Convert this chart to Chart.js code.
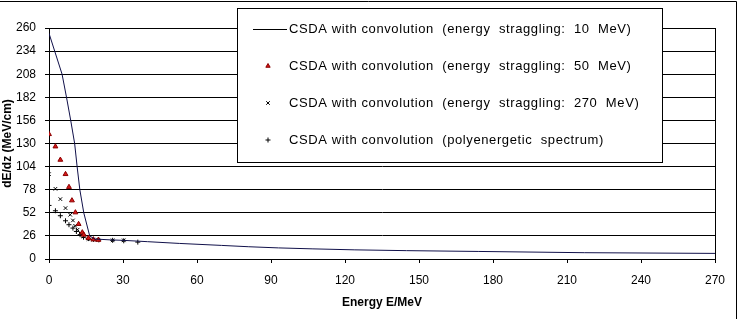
<!DOCTYPE html>
<html>
<head>
<meta charset="utf-8">
<script src="https://cdn.jsdelivr.net/npm/chart.js@4/dist/chart.umd.min.js"></script>
<style>
  html, body { margin: 0; padding: 0; background: #fff; }
  #wrap { position: relative; width: 739px; height: 319px; }
</style>
</head>
<body>
<div id="wrap"><canvas id="dedzChart" width="739" height="319"></canvas></div>
<script>
// dE/dz vs energy - CSDA with convolution

// Series 1: energy straggling 10 MeV (line)
const lineEnergy = [0, 5.3, 7.1, 8.8, 10.4, 11.4, 12.5, 14.1, 16.5, 18.5, 25, 30, 40, 53, 70, 81, 93, 107, 124, 145, 174, 217, 270];
const lineDedz   = [254, 208, 182, 156, 130, 104, 78, 52, 26, 22.5, 21.5, 21, 19.5, 17.5, 15.3, 13.8, 12.5, 11.4, 10.3, 9.4, 8.5, 7.1, 6.3];

// Series 2: energy straggling 50 MeV (triangles)
const s50Energy = [0, 2.6, 4.6, 6.7, 8.1, 9.3, 10.7, 12, 13.5, 14.1, 16, 18, 20];
const s50Dedz   = [140.5, 126.6, 111.6, 95.5, 81, 65.9, 52.4, 39.3, 29.9, 27.3, 23.5, 22, 21.5];

// Series 3: energy straggling 270 MeV (x marks)
const s270Energy = [0, 2.6, 4.6, 6.7, 8.6, 9.7, 10.6, 11.6, 12.6, 14, 16, 18, 20, 25.8, 30.3];
const s270Dedz   = [95.5, 79, 67.4, 57.3, 49.8, 43.4, 37.4, 33, 29.2, 25.4, 22.5, 21.8, 21.5, 21, 21];

// Series 4: polyenergetic spectrum (plus marks)
const polyEnergy = [0, 2.6, 4.6, 6.7, 8.1, 9.7, 11.1, 12.6, 14, 16, 18, 20.2, 25.8, 30.3, 36];
const polyDedz   = [60.3, 54.3, 48.7, 43, 38.6, 34.8, 31, 27.3, 24.5, 23, 22, 21.5, 21, 20.5, 19];

const seriesLabels = [
    'CSDA with convolution  (energy  straggling:  10  MeV)',
    'CSDA with convolution  (energy  straggling:  50  MeV)',
    'CSDA with convolution  (energy  straggling:  270  MeV)',
    'CSDA with convolution  (polyenergetic  spectrum)'
];

const fontFamily = "'Liberation Sans', Arial, sans-serif";
Chart.defaults.font.family = fontFamily;
Chart.defaults.color = '#000';

function toPoints(xs, ys) {
    return xs.map((x, i) => ({ x: x, y: ys[i] }));
}

const pointStyles = [
    { pointStyle: 'line', color: '#10104a' },
    { pointStyle: 'triangle', color: '#d81818', border: '#8a0000' },
    { pointStyle: 'crossRot', color: '#000' },
    { pointStyle: 'cross', color: '#000' }
];

// Draws the frame, plot border and the boxed legend
const framePlugin = {
    id: 'framePlugin',
    afterDraw(chart) {
        const ctx = chart.ctx;
        const area = chart.chartArea;
        ctx.save();
        ctx.strokeStyle = '#000';
        ctx.lineWidth = 1;

        // plot area right border
        ctx.beginPath();
        ctx.moveTo(Math.round(area.right) + 0.5, Math.round(area.top));
        ctx.lineTo(Math.round(area.right) + 0.5, Math.round(area.bottom));
        ctx.stroke();

        // outer chart frame (top + right visible)
        ctx.beginPath();
        ctx.moveTo(0, 1.5);
        ctx.lineTo(736.5, 1.5);
        ctx.lineTo(736.5, 319);
        ctx.stroke();

        // legend box
        const bx = 237, by = 8, bw = 425, bh = 154;
        ctx.fillStyle = '#fff';
        ctx.fillRect(bx, by, bw, bh);
        ctx.strokeRect(bx + 0.5, by + 0.5, bw, bh);

        const rowY = [29, 66, 103, 140];
        ctx.font = '13px ' + fontFamily;
        ctx.letterSpacing = '0.6px';
        ctx.textBaseline = 'middle';
        ctx.textAlign = 'left';
        seriesLabels.forEach((label, i) => {
            const y = rowY[i];
            const st = pointStyles[i];
            if (i === 0) {
                ctx.strokeStyle = '#000';
                ctx.lineWidth = 1;
                ctx.beginPath();
                ctx.moveTo(253, y + 0.5);
                ctx.lineTo(287, y + 0.5);
                ctx.stroke();
            } else {
                ctx.fillStyle = st.color;
                ctx.strokeStyle = st.border || st.color;
                ctx.lineWidth = 1;
                Chart.helpers.drawPoint(ctx, {
                    pointStyle: st.pointStyle,
                    radius: 2.5,
                    rotation: 0,
                    borderWidth: 1
                }, 268, y);
            }
            ctx.fillStyle = '#000';
            ctx.fillText(label, 289, y);
        });
        ctx.restore();
    }
};

const ctx = document.getElementById('dedzChart').getContext('2d');
const dedzChart = new Chart(ctx, {
    type: 'scatter',
    data: {
        datasets: [
            {
                label: seriesLabels[0],
                data: toPoints(lineEnergy, lineDedz),
                showLine: true,
                borderColor: '#10104a',
                borderWidth: 1,
                pointRadius: 0,
                tension: 0
            },
            {
                label: seriesLabels[1],
                data: toPoints(s50Energy, s50Dedz),
                pointStyle: 'triangle',
                pointRadius: 2.8,
                backgroundColor: '#d81818',
                borderColor: '#8a0000',
                borderWidth: 1
            },
            {
                label: seriesLabels[2],
                data: toPoints(s270Energy, s270Dedz),
                pointStyle: 'crossRot',
                pointRadius: 2.5,
                borderColor: '#000',
                borderWidth: 1
            },
            {
                label: seriesLabels[3],
                data: toPoints(polyEnergy, polyDedz),
                pointStyle: 'cross',
                pointRadius: 2.5,
                borderColor: '#000',
                borderWidth: 1
            }
        ]
    },
    options: {
        responsive: false,
        animation: false,
        layout: { padding: { left: 0, right: 24, top: 28, bottom: 0 } },
        plugins: {
            legend: { display: false },
            tooltip: { enabled: false }
        },
        scales: {
            x: {
                type: 'linear',
                min: 0,
                max: 270,
                afterFit: function(scale) { scale.height = 60; },
                ticks: {
                    stepSize: 30,
                    padding: 10,
                    maxRotation: 0,
                    font: { size: 12 }
                },
                grid: {
                    drawOnChartArea: false,
                    color: '#000',
                    tickLength: 4
                },
                border: { color: '#000', width: 1 },
                title: {
                    display: true,
                    text: 'Energy E/MeV',
                    font: { size: 12, weight: 'bold' },
                    padding: { top: 0, bottom: 9 }
                }
            },
            y: {
                min: 0,
                max: 260,
                afterFit: function(scale) { scale.width = 49; },
                ticks: {
                    stepSize: 26,
                    padding: 9,
                    font: { size: 12 }
                },
                grid: {
                    color: '#000',
                    tickLength: 4
                },
                border: { color: '#000', width: 1 },
                title: {
                    display: true,
                    text: 'dE/dz (MeV/cm)',
                    font: { size: 12, weight: 'bold' },
                    padding: { top: 0, bottom: 0 }
                }
            }
        }
    },
    plugins: [framePlugin]
});
</script>
</body>
</html>
